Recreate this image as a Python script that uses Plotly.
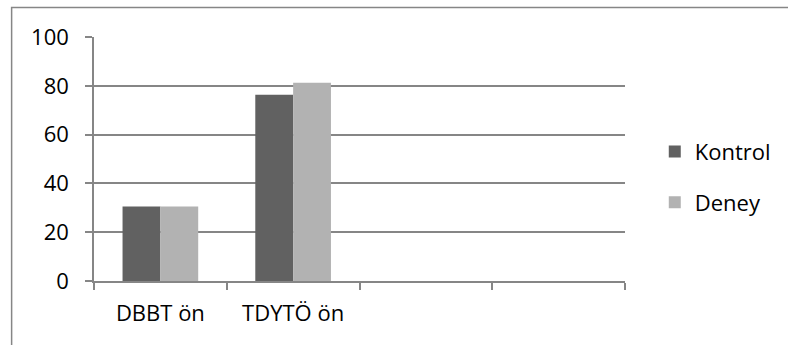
import plotly.graph_objects as go

# Category axis: two measured tests plus two empty slots
categories = ["DBBT ön", "TDYTÖ ön", " ", "  "]
kontrol = [30.5, 76.3, None, None]
deney = [30.5, 81.2, None, None]
y_ticks = [0, 20, 40, 60, 80, 100]

W, H = 788, 345
L, R, T, B = 94, 159, 37, 64
FONT = "Open Sans"
GRID = "#868686"

fig = go.Figure()
fig.add_trace(go.Bar(name="Kontrol", x=categories, y=kontrol,
                     marker=dict(color="#616161", line=dict(width=0)),
                     legendgroup="k"))
fig.add_trace(go.Bar(name="Deney", x=categories, y=deney,
                     marker=dict(color="#b2b2b2", line=dict(width=0)),
                     legendgroup="d"))

pw = W - L - R
ph = H - T - B
# outer chart frame (runs past the right and bottom edges)
fig.add_shape(type="rect", xref="paper", yref="paper",
              x0=(11 - L) / pw, x1=(W + 20 - L) / pw,
              y0=-(H + 20 - T - ph) / ph, y1=(H - B - 7.5) / ph,
              line=dict(color=GRID, width=1.5), fillcolor="rgba(0,0,0,0)",
              layer="below")

fig.update_layout(
    width=W, height=H,
    margin=dict(l=L, r=R, t=T, b=B, pad=0),
    paper_bgcolor="white", plot_bgcolor="white",
    barmode="group", bargap=0.43, bargroupgap=0,
    font=dict(family=FONT, size=22, color="black"),
    showlegend=True,
    legend=dict(x=(659 - L) / pw, y=0.425, xanchor="left", yanchor="middle",
                traceorder="grouped", tracegroupgap=19,
                font=dict(family=FONT, size=22, color="black"),
                itemwidth=30, bgcolor="rgba(0,0,0,0)"),
    xaxis=dict(type="category", categoryorder="array", categoryarray=categories,
               showline=True, linecolor=GRID, linewidth=1.5,
               ticks="outside", ticklen=7, tickcolor=GRID, tickwidth=1.5,
               tickson="boundaries", showgrid=False,
               ticklabelstandoff=12, zeroline=False),
    yaxis=dict(range=[0, 100], tickvals=y_ticks,
               showline=True, linecolor=GRID, linewidth=1.5,
               showgrid=True, gridcolor=GRID, gridwidth=1.5,
               ticks="outside", ticklen=7, tickcolor=GRID, tickwidth=1.5,
               ticklabelstandoff=12, zeroline=False),
)

fig.write_html("out.html")
